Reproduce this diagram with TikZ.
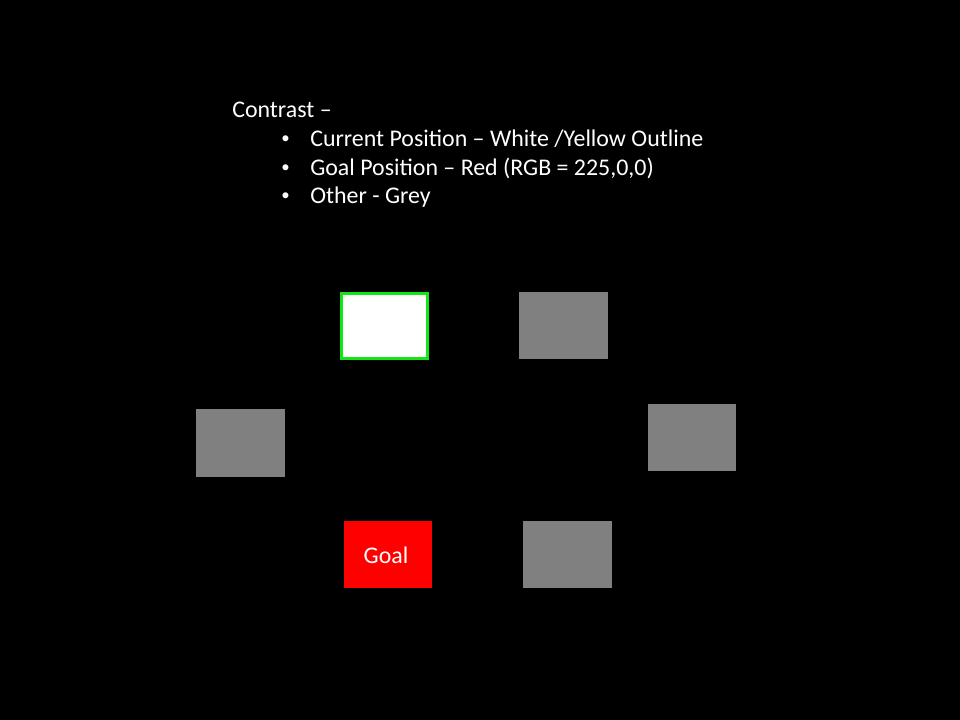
\documentclass[tikz,border=0pt]{standalone}
\usepackage{fontspec}
\setmainfont{Carlito}
\tikzset{
  cell/.style={rectangle, minimum width=2.22cm, minimum height=1.68cm, inner sep=0pt},
  other/.style={cell, fill=grey},
  lbl/.style={font=\fontsize{17}{20}\selectfont, text=white, inner sep=0pt, anchor=base west},
}
\definecolor{grey}{RGB}{128,128,128}
\definecolor{goalred}{RGB}{255,0,0}
\definecolor{outline}{RGB}{20,230,20}

\begin{document}
\begin{tikzpicture}[x=0.025cm, y=-0.025cm]
  % background
  \fill[black] (0,0) rectangle (960,720);
  \useasboundingbox (0,0) rectangle (960,720);
  % legend
  \node[lbl] (title) at (232,118) {Contrast --};
  \foreach \y/\t [count=\i] in {147/{Current Position -- White /Yellow Outline},
                                  176/{Goal Position -- Red (RGB = 225,0,0)},
                                  204/{Other - Grey}} {
    \node[lbl, font=\fontsize{12}{14}\selectfont] (dot\i) at (281,\y-3) {•};
    \node[lbl] (item\i) at (310,\y) {\t};
  }
  % positions
  \node[cell, fill=white, draw=outline, line width=2.2pt,
        minimum width=2.15cm, minimum height=1.62cm] (current) at (384.5,326) {};
  \node[other] (upright) at (563.5,325.5) {};
  \node[other] (left) at (240.5,443) {};
  \node[other] (right) at (692,437.5) {};
  \node[cell, fill=goalred] (goal) at (388,554.5) {};
  \node[text=white, font=\fontsize{17}{20}\selectfont, inner sep=0pt] (goaltext) at (386,555) {Goal};
  \node[other] (downright) at (567.5,554.5) {};
\end{tikzpicture}
\end{document}
